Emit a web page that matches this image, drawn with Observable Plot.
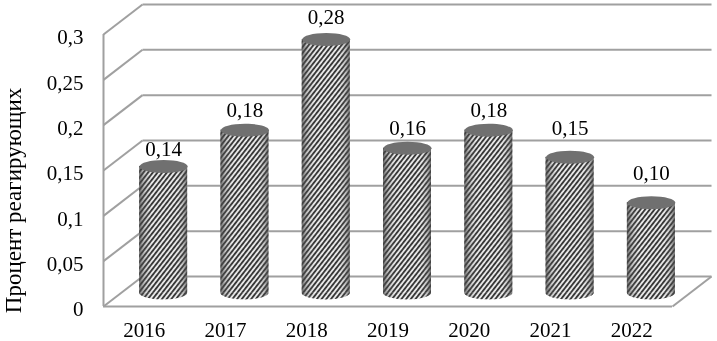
<!DOCTYPE html>
<html><head><meta charset="utf-8">
<script src="https://cdn.jsdelivr.net/npm/d3@7"></script>
<script src="https://cdn.jsdelivr.net/npm/@observablehq/plot@0.6"></script>
<style>html,body{margin:0;padding:0;background:#fff}svg{display:block;filter:blur(0.35px)}</style>
</head><body><div id="chart"></div>
<script>
const years = [2016, 2017, 2018, 2019, 2020, 2021, 2022];
const values = [0.14, 0.18, 0.28, 0.16, 0.18, 0.15, 0.10];
const valueLabels = ["0,14", "0,18", "0,28", "0,16", "0,18", "0,15", "0,10"];
const yTicks = [0, 0.05, 0.1, 0.15, 0.2, 0.25, 0.3];
const yTitle = "Процент реагирующих";
const labelLift = [0.0188, 0.0221, 0.0243, 0.0221, 0.0221, 0.032, 0.032];

const depthX = 0.48, depthY = 0.0331;      // 3D wall depth in data units
const baseY = 0.0145;
const halfW = 0.295;
const xMin = 2015.5, xMax = 2022.5;
const bars = years.map((year, i) => ({year, value: values[i], label: valueLabels[i], lift: labelLift[i],
  cx: year + depthX / 2, base: baseY, top: values[i] + baseY}));
// lower half of each cylinder's base, so that it shares the body's hatch
const baseRy = 0.0072;
const baseArc = bars.flatMap(b => d3.range(0, 25).map(k => {
  const a = Math.PI * k / 24;
  return {year: b.year, x: b.cx + halfW * Math.cos(a), y1: b.base, y2: b.base - baseRy * Math.sin(a)};
}));

const ellipse = {draw(c) {
  const rx = 24, ry = 6.5, k = 0.5523;
  c.moveTo(-rx, 0);
  c.bezierCurveTo(-rx, -k * ry, -k * rx, -ry, 0, -ry);
  c.bezierCurveTo(k * rx, -ry, rx, -k * ry, rx, 0);
  c.bezierCurveTo(rx, k * ry, k * rx, ry, 0, ry);
  c.bezierCurveTo(-k * rx, ry, -rx, k * ry, -rx, 0);
  c.closePath();
}};
const grid = "#a0a0a0";
const ink = "#000";
const font = "'Liberation Serif','Times New Roman',serif";

const svg = Plot.plot({
  width: 717, height: 341,
  marginLeft: 103, marginRight: 45, marginTop: 34, marginBottom: 35,
  style: {fontFamily: font, background: "#fff"},
  x: {domain: [xMin, xMax], label: null},
  y: {domain: [0, 0.3], label: null},
  marks: [
    Plot.link(yTicks, {x1: xMin + depthX, x2: xMax + depthX, y1: t => t + depthY, y2: t => t + depthY, stroke: grid, strokeWidth: 2}),
    Plot.link(yTicks, {x1: xMin, x2: xMin + depthX, y1: t => t, y2: t => t + depthY, stroke: grid, strokeWidth: 2}),
    Plot.ruleX([xMin], {y1: 0, y2: 0.3, stroke: grid, strokeWidth: 2}),
    Plot.ruleY([0], {x1: xMin, x2: xMax, stroke: grid, strokeWidth: 2}),
    Plot.link([0], {x1: xMax, x2: xMax + depthX, y1: 0, y2: depthY, stroke: grid, strokeWidth: 2}),
    // cylinders
    Plot.areaY(baseArc, {x: "x", y1: "y1", y2: "y2", z: "year", fill: "url(#hatch)"}),
    Plot.areaY(baseArc, {x: "x", y1: "y1", y2: "y2", z: "year", fill: "url(#edge)"}),
    Plot.rect(bars, {x1: d => d.cx - halfW, x2: d => d.cx + halfW, y1: "base", y2: "top", fill: "url(#hatch)"}),
    Plot.rect(bars, {x1: d => d.cx - halfW, x2: d => d.cx + halfW, y1: "base", y2: "top", fill: "url(#edge)"}),
    Plot.dot(bars, {x: "cx", y: "top", symbol: ellipse, fill: "#707070", stroke: "none"}),
    Plot.text(bars, {x: "cx", y: d => d.top + d.lift, text: "label", fill: ink, fontSize: 21}),
    Plot.axisY({ticks: yTicks, tickSize: 0, tickPadding: 20, fontSize: 21, fill: ink, dy: 3,
      tickFormat: t => String(t).replace(".", ","), label: null}),
    Plot.axisX({ticks: years, tickSize: 0, tickPadding: 16, fontSize: 21, fill: ink, tickFormat: "d", label: null}),
    Plot.text([yTitle], {x: xMin - 1.11, y: 0.117, rotate: -90, fontSize: 23, fill: ink})
  ]
});

const defs = d3.select(svg).insert("defs", ":first-child");
const p = defs.append("pattern").attr("id", "hatch").attr("patternUnits", "userSpaceOnUse")
  .attr("width", 3.7).attr("height", 3.7).attr("patternTransform", "rotate(38)");
p.append("rect").attr("width", 3.7).attr("height", 3.7).attr("fill", "#ececec");
p.append("rect").attr("width", 1.9).attr("height", 3.7).attr("fill", "#383838");
const g = defs.append("linearGradient").attr("id", "edge");
[[0, "#444", 0.8], [0.1, "#555", 0.3], [0.26, "#888", 0], [0.78, "#888", 0], [0.92, "#555", 0.3], [1, "#444", 0.8]]
  .forEach(([o, c, a]) => g.append("stop").attr("offset", o).attr("stop-color", c).attr("stop-opacity", a));
document.getElementById("chart").append(svg);
</script></body></html>
